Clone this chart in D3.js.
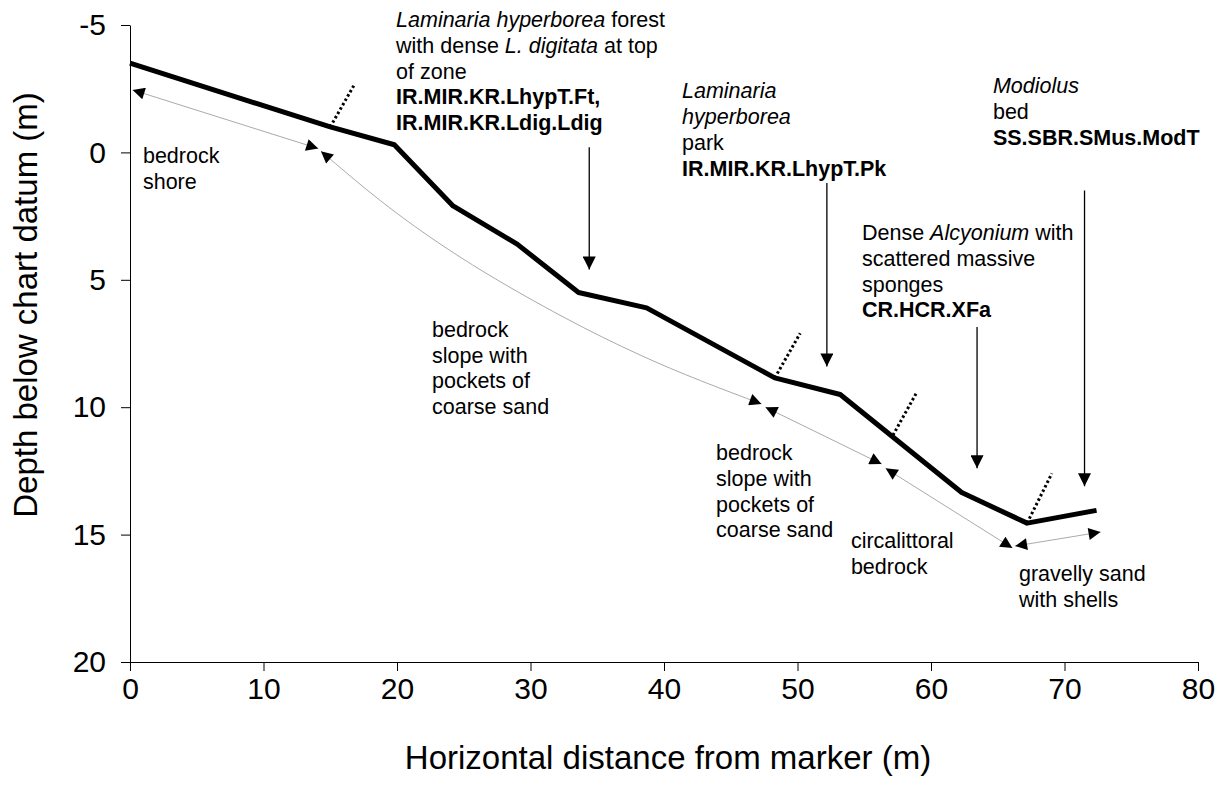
<!DOCTYPE html>
<meta charset="utf-8">
<style>
body { margin: 0; background: #fff; }
text { font-family: "Liberation Sans", Arial, sans-serif; fill: #000; }
</style>
<body>
<svg width="1226" height="791"></svg>
<script src="https://d3js.org/d3.v7.min.js"></script>
<script>

// seabed profile (thick line)
var profileDist  = [0, 15, 19.8, 24.2, 29, 33.6, 38.7, 48.3, 53.2, 62.3, 67.2, 72.4];
var profileDepth = [-3.5, -1.0, -0.3, 2.1, 3.6, 5.5, 6.1, 8.85, 9.5, 13.35, 14.55, 14.05];

// zone boundaries (dotted), from the profile out to the end point
var boundDist   = [15, 48.3, 57.15, 67.2];
var boundDepth  = [-1.0, 8.85, 11.1, 14.55];
var boundEndDist  = [16.85, 50.2, 58.95, 69.05];
var boundEndDepth = [-2.7, 7.1, 9.4, 12.6];

// substrate extents (grey double headed arrows)
var substrateDist  = [[0.2, 14.1], [14.3, 18.7, 32.6, 38.2, 47.3], [47.6, 56.3], [56.6, 66.1], [66.3, 72.7]];
var substrateDepth = [[-2.45, -0.15], [-0.05, 1.87, 6.5, 7.95, 9.87], [10.0, 12.23], [12.4, 15.53], [15.45, 14.9]];

// substrate labels
var substrateText = [
  ["bedrock", "shore"],
  ["bedrock", "slope with", "pockets of", "coarse sand"],
  ["bedrock", "slope with", "pockets of", "coarse sand"],
  ["circalittoral", "bedrock"],
  ["gravelly sand", "with shells"]
];
var substrateTextDist  = [0.97, 22.62, 43.9, 54.0, 66.59];
var substrateTextDepth = [0.42, 7.24, 12.07, 15.53, 16.82];

// biotope labels, each line is a list of [text, style]
var biotopeText = [
  [[["Laminaria hyperborea", "i"], [" forest", ""]],
   [["with dense ", ""], ["L. digitata", "i"], [" at top", ""]],
   [["of zone", ""]],
   [["IR.MIR.KR.LhypT.Ft,", "b"]],
   [["IR.MIR.KR.Ldig.Ldig", "b"]]],
  [[["Laminaria", "i"]],
   [["hyperborea", "i"]],
   [["park", ""]],
   [["IR.MIR.KR.LhypT.Pk", "b"]]],
  [[["Dense ", ""], ["Alcyonium", "i"], [" with", ""]],
   [["scattered massive", ""]],
   [["sponges", ""]],
   [["CR.HCR.XFa", "b"]]],
  [[["Modiolus", "i"]],
   [["bed", ""]],
   [["SS.SBR.SMus.ModT", "b"]]]
];
var biotopeTextDist  = [19.93, 41.35, 54.83, 64.64];
var biotopeTextDepth = [-4.92, -2.12, 3.44, -2.33];

// pointer arrows from biotope labels
var pointerDist  = [34.4, 52.2, 63.45, 71.5];
var pointerTop   = [-0.2, 1.2, 6.85, 1.5];
var pointerTip   = [4.6, 8.4, 12.4, 13.1];

var xTicks = [0, 10, 20, 30, 40, 50, 60, 70, 80];
var yTicks = [-5, 0, 5, 10, 15, 20];

var svg = d3.select("svg"),
    lineGap = 25.8;

var x = d3.scaleLinear().domain([0, 80]).range([130, 1198]);
var y = d3.scaleLinear().domain([-5, 20]).range([25, 662]);

var defs = svg.append("defs");
defs.append("marker")
    .attr("id", "head")
    .attr("viewBox", "0 0 10 10")
    .attr("refX", 10).attr("refY", 5)
    .attr("markerWidth", 14).attr("markerHeight", 12)
    .attr("markerUnits", "userSpaceOnUse")
    .attr("orient", "auto-start-reverse")
  .append("path")
    .attr("d", "M0,0L10,5L0,10Z")
    .attr("fill", "#000");
defs.append("marker")
    .attr("id", "pointer")
    .attr("viewBox", "0 0 10 10")
    .attr("refX", 10).attr("refY", 5)
    .attr("markerWidth", 14).attr("markerHeight", 13)
    .attr("markerUnits", "userSpaceOnUse")
    .attr("orient", "auto")
  .append("path")
    .attr("d", "M0,0L10,5L0,10Z")
    .attr("fill", "#000");

// axes
svg.append("g")
    .attr("transform", "translate(0," + y(20) + ")")
    .call(d3.axisBottom(x).tickValues(xTicks).tickSize(9).tickSizeOuter(0).tickPadding(7))
    .call(function(g) {
      g.selectAll("text").attr("font-size", 30).attr("font-family", "Liberation Sans, Arial, sans-serif");
      g.selectAll("line, path").attr("stroke", "#000");
    });

svg.append("g")
    .attr("transform", "translate(" + x(0) + ",0)")
    .call(d3.axisLeft(y).tickValues(yTicks).tickFormat(function(d) { return String(d); })
      .tickSize(9).tickSizeOuter(0).tickPadding(15))
    .call(function(g) {
      g.selectAll("text").attr("font-size", 30).attr("font-family", "Liberation Sans, Arial, sans-serif");
      g.selectAll("line, path").attr("stroke", "#000");
    });

svg.append("text")
    .attr("x", 668).attr("y", 769)
    .attr("text-anchor", "middle")
    .attr("font-size", 33)
    .text("Horizontal distance from marker (m)");

svg.append("text")
    .attr("transform", "translate(37,305) rotate(-90)")
    .attr("text-anchor", "middle")
    .attr("font-size", 33)
    .text("Depth below chart datum (m)");

// substrate arrows
var curve = d3.line()
    .x(function(d) { return x(d[0]); })
    .y(function(d) { return y(d[1]); })
    .curve(d3.curveMonotoneX);

svg.append("g").selectAll("path")
    .data(substrateDist.map(function(d, i) { return d3.zip(d, substrateDepth[i]); }))
  .enter().append("path")
    .attr("d", curve)
    .attr("fill", "none")
    .attr("stroke", "#aaa")
    .attr("stroke-width", 1)
    .attr("marker-start", "url(#head)")
    .attr("marker-end", "url(#head)");

// profile
svg.append("path")
    .datum(d3.zip(profileDist, profileDepth))
    .attr("d", d3.line().x(function(d) { return x(d[0]); }).y(function(d) { return y(d[1]); }))
    .attr("fill", "none")
    .attr("stroke", "#000")
    .attr("stroke-width", 5)
    .attr("stroke-linejoin", "round");

// zone boundaries
svg.append("g").selectAll("line")
    .data(boundDist)
  .enter().append("line")
    .attr("x1", function(d) { return x(d); })
    .attr("y1", function(d, i) { return y(boundDepth[i]); })
    .attr("x2", function(d, i) { return x(boundEndDist[i]); })
    .attr("y2", function(d, i) { return y(boundEndDepth[i]); })
    .attr("stroke", "#000")
    .attr("stroke-width", 3)
    .attr("stroke-dasharray", "2.5,2.5");

// pointer arrows
svg.append("g").selectAll("line")
    .data(pointerDist)
  .enter().append("line")
    .attr("x1", function(d) { return x(d); })
    .attr("x2", function(d) { return x(d); })
    .attr("y1", function(d, i) { return y(pointerTop[i]); })
    .attr("y2", function(d, i) { return y(pointerTip[i]); })
    .attr("stroke", "#000")
    .attr("stroke-width", 1.3)
    .attr("marker-end", "url(#pointer)");

// substrate labels
svg.append("g").selectAll("text")
    .data(substrateText)
  .enter().append("text")
    .attr("font-size", 21.5)
    .attr("transform", function(d, i) { return "translate(" + x(substrateTextDist[i]) + "," + y(substrateTextDepth[i]) + ")"; })
  .selectAll("tspan")
    .data(function(d) { return d; })
  .enter().append("tspan")
    .attr("x", 0)
    .attr("y", function(d, i) { return i * lineGap; })
    .text(function(d) { return d; });

// biotope labels
var lines = svg.append("g").selectAll("text")
    .data(biotopeText)
  .enter().append("text")
    .attr("font-size", 21.5)
    .attr("transform", function(d, i) { return "translate(" + x(biotopeTextDist[i]) + "," + y(biotopeTextDepth[i]) + ")"; })
  .selectAll("tspan.line")
    .data(function(d) { return d; })
  .enter().append("tspan")
    .attr("class", "line")
    .attr("x", 0)
    .attr("y", function(d, i) { return i * lineGap; });

lines.selectAll("tspan")
    .data(function(d) { return d; })
  .enter().append("tspan")
    .attr("font-style", function(d) { return d[1] == "i" ? "italic" : null; })
    .attr("font-weight", function(d) { return d[1] == "b" ? "bold" : null; })
    .text(function(d) { return d[0]; });

</script>
</body>
